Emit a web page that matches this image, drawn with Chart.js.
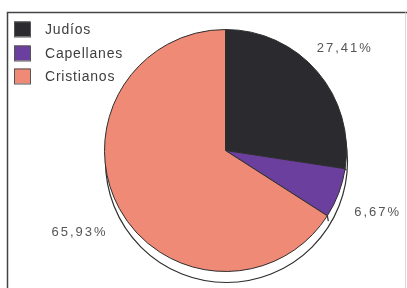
<!DOCTYPE html>
<html>
<head>
<meta charset="utf-8">
<script src="https://cdn.jsdelivr.net/npm/chart.js@4"></script>
<style>
  html, body { margin: 0; padding: 0; background: #fff; }
  #wrap { width: 407px; height: 288px; }
</style>
</head>
<body>
<div id="wrap"><canvas id="pie" width="407" height="288"></canvas></div>
<script>
// data
var categories = ["Judíos", "Capellanes", "Cristianos"];
var shares = [27.41, 6.67, 65.93];
var shareLabels = shares.map(function(v){ return v.toFixed(2).replace(".", ",") + "%"; });

// look
var sliceColors = ["#2b2a2f", "#6b3f9e", "#ee8a76"];
var edgeColor = "#2e2e2e";
// label nudges (px) from the mid-angle anchor, per slice
var labelNudge = [[0, 0], [5, 6], [-8, 6]];

var framePlugin = {
    id: "frame",
    beforeDraw: function(chart){
        var ctx = chart.ctx;
        ctx.save();
        ctx.strokeStyle = "#444";
        ctx.lineWidth = 1.5;
        ctx.beginPath();
        ctx.moveTo(7.5, 288);
        ctx.lineTo(7.5, 12.5);
        ctx.lineTo(407, 12.5);
        ctx.stroke();
        ctx.strokeStyle = "#d8d8d8";
        ctx.lineWidth = 1;
        ctx.beginPath();
        ctx.moveTo(405.5, 12.5);
        ctx.lineTo(405.5, 288);
        ctx.stroke();
        ctx.restore();
    }
};

// white "thickness" disc under the pie
var shadowPlugin = {
    id: "shadow",
    beforeDatasetsDraw: function(chart){
        var arc = chart.getDatasetMeta(0).data[0];
        if (!arc) return;
        var ctx = chart.ctx;
        var depth = 11;
        ctx.save();
        ctx.fillStyle = "#fff";
        ctx.strokeStyle = edgeColor;
        ctx.lineWidth = 1.2;
        ctx.beginPath();
        ctx.arc(arc.x + 1, arc.y + depth, arc.outerRadius, 0, Math.PI * 2);
        ctx.fill();
        ctx.stroke();
        // side wall edges at slice boundaries on the lower half
        chart.getDatasetMeta(0).data.forEach(function(a){
            var ang = a.endAngle;
            var px = arc.x + Math.cos(ang) * arc.outerRadius;
            var py = arc.y + Math.sin(ang) * arc.outerRadius;
            if (Math.sin(ang) > 0.1) {
                ctx.beginPath();
                ctx.moveTo(px, py);
                ctx.lineTo(px + 1, py + depth * Math.sin(ang) * 0.9);
                ctx.stroke();
            }
        });
        ctx.restore();
    }
};

var labelPlugin = {
    id: "sliceLabels",
    afterDatasetsDraw: function(chart){
        var ctx = chart.ctx;
        ctx.save();
        ctx.font = "13px 'Liberation Sans', Arial, sans-serif";
        ctx.letterSpacing = "2px";
        ctx.fillStyle = "#555";
        ctx.textAlign = "center";
        ctx.textBaseline = "middle";
        chart.getDatasetMeta(0).data.forEach(function(a, i){
            var mid = (a.startAngle + a.endAngle) / 2;
            var r = a.outerRadius * 1.3;
            var x = a.x + Math.cos(mid) * r + labelNudge[i][0];
            var y = a.y + Math.sin(mid) * r + labelNudge[i][1];
            ctx.fillText(shareLabels[i], x, y);
        });
        ctx.restore();
    }
};

var legendPlugin = {
    id: "boxLegend",
    afterDraw: function(chart){
        var ctx = chart.ctx;
        var rows = [29, 53, 76];
        ctx.save();
        ctx.font = "14px 'Liberation Sans', Arial, sans-serif";
        ctx.letterSpacing = "0.8px";
        ctx.textBaseline = "middle";
        categories.forEach(function(name, i){
            ctx.fillStyle = sliceColors[i];
            ctx.fillRect(14, rows[i] - 7.5, 16, 15);
            ctx.strokeStyle = "#555";
            ctx.lineWidth = 1;
            ctx.strokeRect(14.5, rows[i] - 7, 16, 15);
            ctx.fillStyle = "#3e3e3e";
            ctx.fillText(name, 45, rows[i] + 1);
        });
        ctx.restore();
    }
};

new Chart(document.getElementById("pie").getContext("2d"), {
    type: "pie",
    data: {
        labels: categories,
        datasets: [{
            data: shares,
            backgroundColor: sliceColors,
            borderColor: edgeColor,
            borderWidth: 1
        }]
    },
    options: {
        responsive: false,
        animation: false,
        layout: { padding: { left: 104, right: 60, top: 29, bottom: 16 } },
        plugins: {
            legend: { display: false },
            tooltip: { enabled: false }
        }
    },
    plugins: [framePlugin, shadowPlugin, labelPlugin, legendPlugin]
});
</script>
</body>
</html>
